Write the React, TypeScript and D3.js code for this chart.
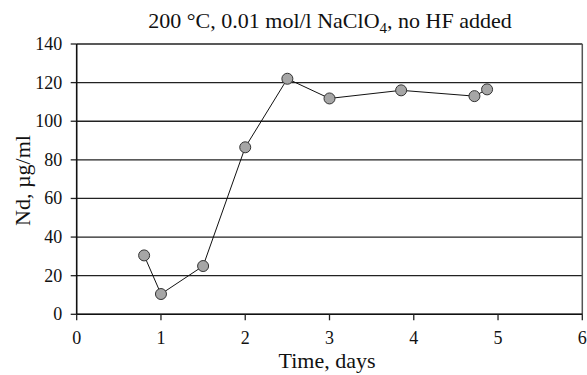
import React from "react";
import * as d3 from "d3";

const days = [0.8, 1, 1.5, 2, 2.5, 3, 3.85, 4.72, 4.87];
const nd = [30.5, 10.5, 25, 86.5, 122, 111.8, 116, 113, 116.5];
const xTicks = [0, 1, 2, 3, 4, 5, 6];
const yTicks = [0, 20, 40, 60, 80, 100, 120, 140];

const W = 587, H = 375;
const L = 76.7, R = 582.3, T = 44, B = 314.3;

export default function App() {
  const x = d3.scaleLinear().domain([0, 6]).range([L, R]);
  const y = d3.scaleLinear().domain([0, 140]).range([B, T]);
  const line = d3.line<number>().x((_, i) => x(days[i])).y((d) => y(d));
  const font = "'Liberation Serif', 'Times New Roman', serif";
  return (
    <svg width={W} height={H} style={{ position: "absolute", left: 0, top: 0 }} fontFamily={font}>
      <rect width={W} height={H} fill="#fff" />
      {yTicks.map((t) => (
        <g key={t}>
          <line x1={L} x2={R} y1={y(t)} y2={y(t)} stroke="#222" strokeWidth={1.3} />
          <line x1={L - 6} x2={L} y1={y(t)} y2={y(t)} stroke="#222" strokeWidth={1.3} />
          <text x={L - 14.5} y={y(t) + 6} textAnchor="end" fontSize={18} fill="#111">{t}</text>
        </g>
      ))}
      <line x1={R} x2={R} y1={T} y2={B} stroke="#555" strokeWidth={1.5} />
      <line x1={L} x2={L} y1={T} y2={B} stroke="#111" strokeWidth={1.6} />
      <line x1={L} x2={R} y1={B} y2={B} stroke="#111" strokeWidth={1.6} />
      {xTicks.map((t) => (
        <g key={t}>
          <line x1={x(t)} x2={x(t)} y1={B} y2={B + 6} stroke="#222" strokeWidth={1.3} />
          <text x={x(t)} y={343.5} textAnchor="middle" fontSize={18} fill="#111">{t}</text>
        </g>
      ))}
      <path d={line(nd) || ""} fill="none" stroke="#111" strokeWidth={1} />
      {nd.map((v, i) => (
        <circle key={i} cx={x(days[i])} cy={y(v)} r={5.5} fill="#a6a6a6" stroke="#333" strokeWidth={1} />
      ))}
      <text x={330} y={28} textAnchor="middle" fontSize={22} fill="#111">
        200 °C, 0.01 mol/l NaClO<tspan fontSize={15} dy={5}>4</tspan><tspan dy={-5}>, no HF added</tspan>
      </text>
      <text x={327} y={367.5} textAnchor="middle" fontSize={22} fill="#111">Time, days</text>
      <text transform={`translate(30,180.5) rotate(-90)`} textAnchor="middle" fontSize={22} fill="#111">Nd, µg/ml</text>
    </svg>
  );
}
